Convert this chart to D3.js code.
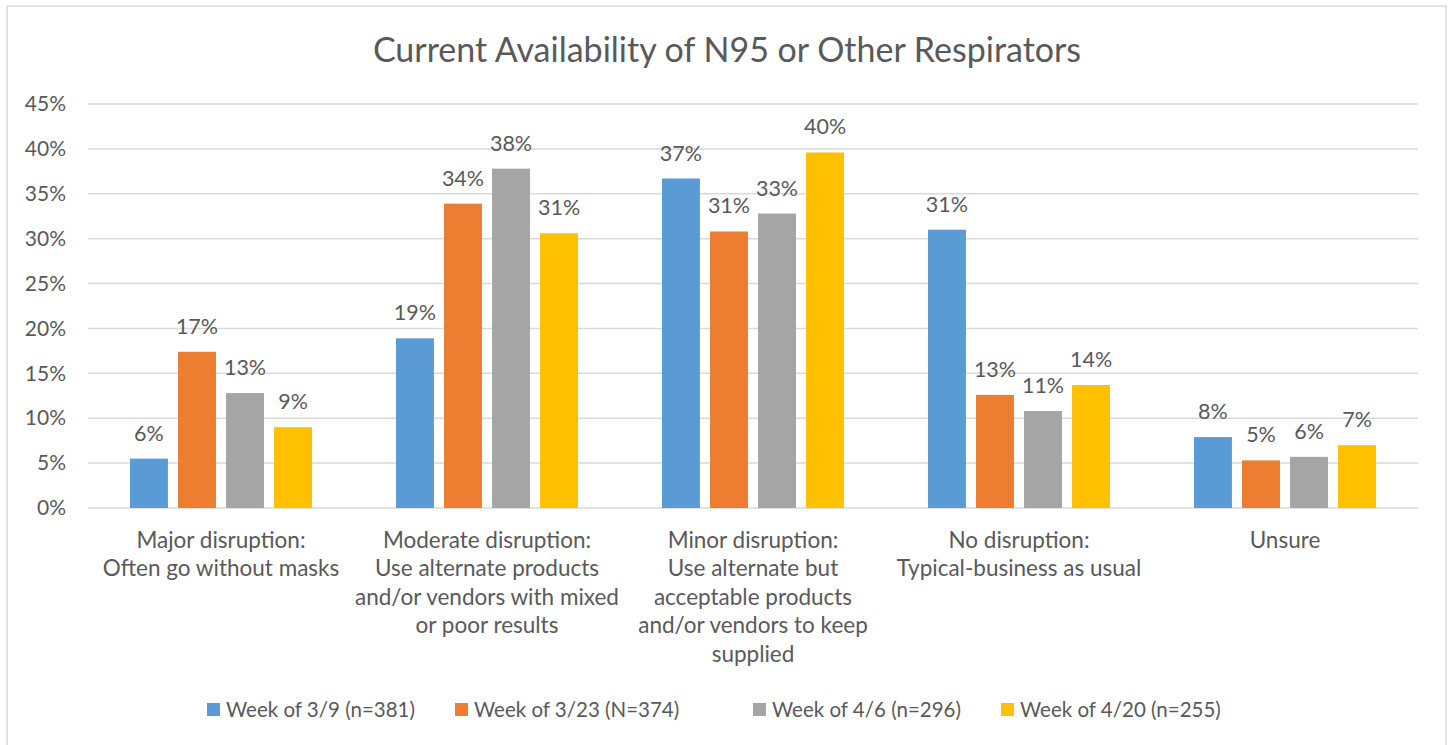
<!DOCTYPE html>
<html>
<head>
<meta charset="utf-8">
<script src="https://cdn.jsdelivr.net/npm/d3@7"></script>
<style>
  body { margin: 0; background: #fff; }
  text { font-family: Lato, "Open Sans", sans-serif; fill: #595959; }
</style>
</head>
<body>
<div id="chart"></div>
<script>
// chart data
var categories = ["Major", "Moderate", "Minor", "None", "Unsure"];
var categoryLines = [
  ["Major disruption:", "Often go without masks"],
  ["Moderate disruption:", "Use alternate products", "and/or vendors with mixed", "or poor results"],
  ["Minor disruption:", "Use alternate but", "acceptable products", "and/or vendors to keep", "supplied"],
  ["No disruption:", "Typical-business as usual"],
  ["Unsure"]
];
var seriesNames = ["Week of 3/9 (n=381)", "Week of 3/23 (N=374)", "Week of 4/6 (n=296)", "Week of 4/20 (n=255)"];
var week39  = [5.5, 18.9, 36.7, 31.0, 7.9];
var week323 = [17.4, 33.9, 30.8, 12.6, 5.3];
var week46  = [12.8, 37.8, 32.8, 10.8, 5.7];
var week420 = [9.0, 30.6, 39.6, 13.7, 7.0];
var barLabels = [
  ["6%", "19%", "37%", "31%", "8%"],
  ["17%", "34%", "31%", "13%", "5%"],
  ["13%", "38%", "33%", "11%", "6%"],
  ["9%", "31%", "40%", "14%", "7%"]
];
var yTicks = [0, 5, 10, 15, 20, 25, 30, 35, 40, 45];
var colors = ["#5b9bd5", "#ed7d31", "#a5a5a5", "#ffc000"];

var allSeries = [week39, week323, week46, week420];

var W = 1450, H = 745;
var margin = {left: 88, right: 32, top: 104, bottom: 237};

var svg = d3.select("#chart").append("svg")
  .attr("width", W).attr("height", H);

// outer border
svg.append("rect")
  .attr("x", 7).attr("y", 6)
  .attr("width", 1439).attr("height", 745)
  .attr("fill", "none")
  .attr("stroke", "#d9d9d9")
  .attr("stroke-width", 1.5);

// title
svg.append("text")
  .attr("x", 727).attr("y", 62)
  .attr("text-anchor", "middle")
  .style("font-size", "34px")
  .text("Current Availability of N95 or Other Respirators");

var x0 = d3.scaleBand()
  .domain(categories)
  .range([margin.left, W - margin.right]);

var x1 = d3.scaleBand()
  .domain(d3.range(seriesNames.length))
  .range([42, x0.bandwidth() - 42])
  .paddingInner(0.21);

var y = d3.scaleLinear()
  .domain([0, 45])
  .range([H - margin.bottom, margin.top]);

// gridlines
svg.append("g")
  .selectAll("line")
  .data(yTicks)
  .join("line")
    .attr("x1", margin.left).attr("x2", W - margin.right)
    .attr("y1", function(d) { return y(d); })
    .attr("y2", function(d) { return y(d); })
    .attr("stroke", "#d9d9d9")
    .attr("stroke-width", 1.5);

// y axis labels
var yAxis = svg.append("g")
  .attr("transform", "translate(" + 66 + ",0)")
  .call(d3.axisLeft(y).tickValues(yTicks).tickSize(0).tickPadding(0)
    .tickFormat(function(d) { return d + "%"; }));
yAxis.select(".domain").remove();
yAxis.selectAll("text")
  .style("font-size", "21px")
  .style("font-family", "Lato, 'Open Sans', sans-serif")
  .attr("fill", "#595959");

// bars
var groups = svg.append("g")
  .selectAll("g")
  .data(categories)
  .join("g")
    .attr("transform", function(d) { return "translate(" + x0(d) + ",0)"; });

groups.selectAll("rect")
  .data(function(d, i) { return allSeries.map(function(s, j) { return {s: j, v: s[i], c: i}; }); })
  .join("rect")
    .attr("x", function(d) { return x1(d.s); })
    .attr("width", x1.bandwidth())
    .attr("y", function(d) { return y(d.v); })
    .attr("height", function(d) { return y(0) - y(d.v); })
    .attr("fill", function(d) { return colors[d.s]; });

groups.selectAll("text.lbl")
  .data(function(d, i) { return allSeries.map(function(s, j) { return {s: j, v: s[i], c: i}; }); })
  .join("text")
    .attr("class", "lbl")
    .attr("x", function(d) { return x1(d.s) + x1.bandwidth() / 2; })
    .attr("y", function(d) { return y(d.v) - 18; })
    .attr("text-anchor", "middle")
    .style("font-size", "21.5px")
    .text(function(d) { return barLabels[d.s][d.c]; });

// category labels
groups.append("text")
  .attr("text-anchor", "middle")
  .style("font-size", "22.5px")
  .selectAll("tspan")
  .data(function(d, i) { return categoryLines[i]; })
  .join("tspan")
    .attr("x", x0.bandwidth() / 2)
    .attr("y", function(d, i) { return y(0) + 39.5 + i * 28.5; })
    .text(function(d) { return d; });

// legend
var legendX = [207, 455, 753, 1001];
var legend = svg.append("g")
  .selectAll("g")
  .data(seriesNames)
  .join("g")
    .attr("transform", function(d, i) { return "translate(" + legendX[i] + ",703)"; });
legend.append("rect")
  .attr("width", 13).attr("height", 13)
  .attr("fill", function(d, i) { return colors[i]; });
legend.append("text")
  .attr("x", 19).attr("y", 14)
  .style("font-size", "20.5px")
  .text(function(d) { return d; });
</script>
</body>
</html>
